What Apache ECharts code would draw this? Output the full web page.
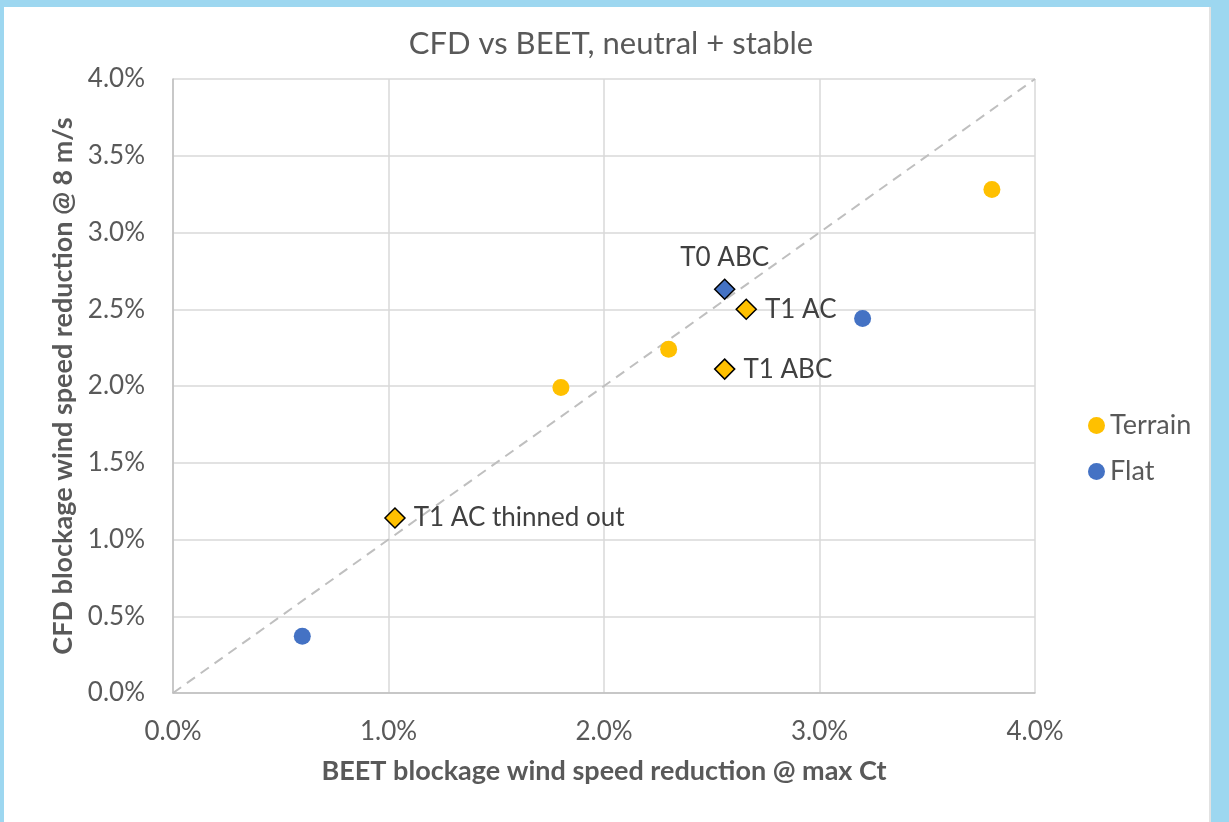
<!DOCTYPE html>
<html>
<head>
<meta charset="utf-8">
<script src="https://cdn.jsdelivr.net/npm/echarts@6/dist/echarts.min.js"></script>
<style>
    html, body { margin: 0; padding: 0; }
    body { width: 1229px; height: 822px; background: #9DD7F0; position: relative; overflow: hidden; }
    .paper { position: absolute; left: 4px; top: 7px; width: 1205px; height: 815px; background: #fff; border-right: 2px solid #E2E2E2; }
    #chart { position: absolute; left: 0; top: 0; width: 1229px; height: 822px; }
</style>
</head>
<body>
<div class="paper"></div>
<div id="chart"></div>
<script>
    // 数据（单位：%）
    var terrainPts = [[1.80, 1.99], [2.30, 2.24], [3.80, 3.28]];
    var flatPts = [[0.60, 0.37], [3.20, 2.44]];
    var terrainCases = [[2.66, 2.50], [2.56, 2.11], [1.03, 1.14]];
    var terrainCaseNames = ['T1 AC', 'T1 ABC', 'T1 AC thinned out'];
    var flatCases = [[2.56, 2.63]];
    var flatCaseNames = ['T0 ABC'];
    var diagonal = [[0, 0], [4, 4]];

    var font = 'Lato';
    var textGrey = '#595959';

    function named(pts, names) {
        var out = [];
        for (var i = 0; i < pts.length; i++) {
            out.push({ name: names[i], value: pts[i] });
        }
        return out;
    }

    var myChart = echarts.init(document.getElementById('chart'));
    var pctLabel = {
        color: textGrey,
        fontSize: 26,
        fontFamily: font,
        formatter: function (v) { return v.toFixed(1) + '%'; }
    };
    var option = {
        animation: false,
        title: {
            text: 'CFD vs BEET, neutral + stable',
            left: 606,
            textAlign: 'center',
            top: 23,
            textStyle: { color: textGrey, fontSize: 31, fontWeight: 'normal', fontFamily: font }
        },
        legend: {
            data: ['Terrain', 'Flat'],
            orient: 'vertical',
            left: 1083,
            top: 407,
            icon: 'circle',
            itemWidth: 17,
            itemHeight: 17,
            itemGap: 19,
            textStyle: { color: textGrey, fontSize: 27, fontFamily: font }
        },
        grid: { left: 173, top: 79, right: 194, bottom: 129 },
        xAxis: {
            type: 'value',
            min: 0,
            max: 4,
            interval: 1,
            name: 'BEET blockage wind speed reduction @ max Ct',
            nameLocation: 'middle',
            nameGap: 65,
            nameTextStyle: { color: textGrey, fontSize: 27, fontWeight: 'bold', fontFamily: font },
            axisLine: { lineStyle: { color: '#BFBFBF', width: 1.5 } },
            axisTick: { show: false },
            axisLabel: Object.assign({ margin: 26 }, pctLabel),
            splitLine: { lineStyle: { color: '#D9D9D9', width: 1.5 } }
        },
        yAxis: {
            type: 'value',
            min: 0,
            max: 4,
            interval: 0.5,
            name: 'CFD blockage wind speed reduction @ 8 m/s',
            nameLocation: 'middle',
            nameGap: 90,
            nameTextStyle: { color: textGrey, fontSize: 27, fontWeight: 'bold', fontFamily: font },
            axisLine: { show: true, lineStyle: { color: '#BFBFBF', width: 1.5 } },
            axisTick: { show: false },
            axisLabel: Object.assign({ margin: 28 }, pctLabel),
            splitLine: { lineStyle: { color: '#D9D9D9', width: 1.5 } }
        },
        series: [
            {
                name: 'diagonal',
                type: 'line',
                data: diagonal,
                symbol: 'none',
                silent: true,
                lineStyle: { color: '#BFBFBF', width: 2, type: [10, 7] },
                z: 1
            },
            {
                name: 'Terrain',
                type: 'scatter',
                data: terrainPts,
                symbol: 'circle',
                symbolSize: 17,
                itemStyle: { color: '#FFC000', opacity: 1 },
                z: 3
            },
            {
                name: 'Flat',
                type: 'scatter',
                data: flatPts,
                symbol: 'circle',
                symbolSize: 17,
                itemStyle: { color: '#4472C4', opacity: 1 },
                z: 3
            },
            {
                name: 'Terrain cases',
                type: 'scatter',
                data: named(terrainCases, terrainCaseNames),
                symbol: 'diamond',
                symbolSize: 20,
                itemStyle: { color: '#FFC000', borderColor: '#000', borderWidth: 1.5, opacity: 1 },
                label: {
                    show: true,
                    position: 'right',
                    distance: 8,
                    formatter: '{b}',
                    color: '#404040',
                    fontSize: 26,
                    fontFamily: font
                },
                z: 4
            },
            {
                name: 'Flat cases',
                type: 'scatter',
                data: named(flatCases, flatCaseNames),
                symbol: 'diamond',
                symbolSize: 20,
                itemStyle: { color: '#4472C4', borderColor: '#000', borderWidth: 1.5, opacity: 1 },
                label: {
                    show: true,
                    position: 'top',
                    distance: 8,
                    formatter: '{b}',
                    color: '#404040',
                    fontSize: 26,
                    fontFamily: font
                },
                z: 4
            }
        ]
    };

    myChart.setOption(option);
</script>
</body>
</html>
